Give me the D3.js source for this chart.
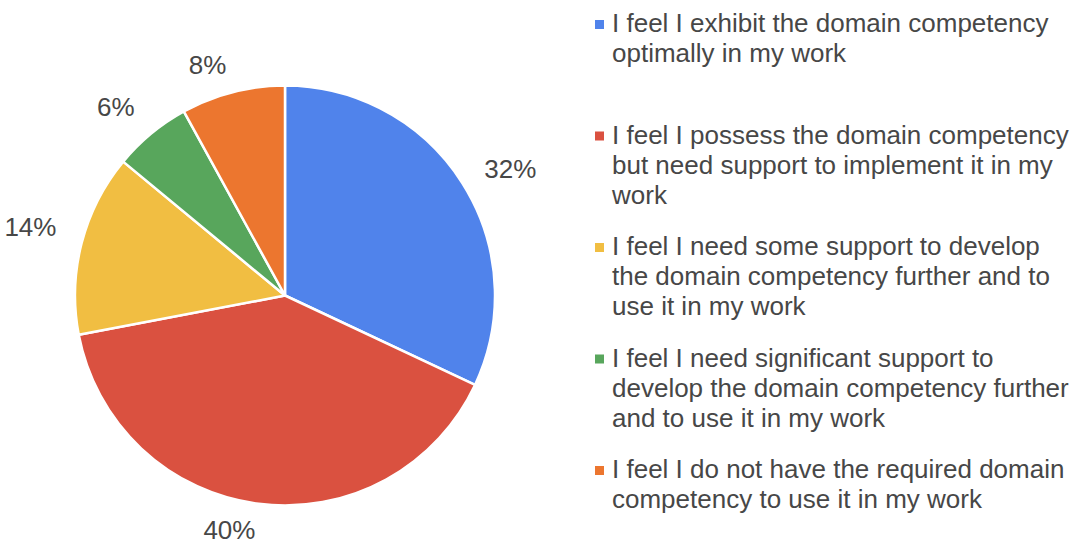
<!DOCTYPE html>
<html>
<head>
<meta charset="utf-8">
<script src="https://cdn.jsdelivr.net/npm/d3@7"></script>
<style>
  html, body { margin: 0; padding: 0; background: #ffffff; }
  svg { display: block; font-family: "Liberation Sans", Arial, sans-serif; }
</style>
</head>
<body>
<svg id="chart" width="1077" height="544"></svg>
<script>
// Survey responses: self-assessed domain competency
const categories = [
  "I feel I exhibit the domain competency optimally in my work",
  "I feel I possess the domain competency but need support to implement it in my work",
  "I feel I need some support to develop the domain competency further and to use it in my work",
  "I feel I need significant support to develop the domain competency further and to use it in my work",
  "I feel I do not have the required domain competency to use it in my work"
];
const shares = [32, 40, 14, 6, 8];
const sliceColors = ["#5083EB", "#DA5140", "#F1BE42", "#58A65C", "#EC762F"];

const W = 1077, H = 544;
const cx = 285, cy = 295.5, radius = 210;
const labelRadius = 236;
const labelHalfHeight = 10;
const textColor = "#474747";

const svg = d3.select("#chart");

const pie = d3.pie().sort(null).value(d => d.value);
const arcs = pie(categories.map((c, i) => ({ name: c, value: shares[i], color: sliceColors[i] })));
const arc = d3.arc().innerRadius(0).outerRadius(radius);

const g = svg.append("g").attr("transform", `translate(${cx},${cy})`);

g.selectAll("path.slice")
  .data(arcs)
  .join("path")
  .attr("class", "slice")
  .attr("d", arc)
  .attr("fill", d => d.data.color)
  .attr("stroke", "#ffffff")
  .attr("stroke-width", 2.5)
  .attr("stroke-linejoin", "round");

// Percentage labels just outside each slice; upper-left labels are lifted
// so their lower corner sits on the anchor ring
g.selectAll("text.pct")
  .data(arcs)
  .join("text")
  .attr("class", "pct")
  .each(function (d) {
    const a = (d.startAngle + d.endAngle) / 2;
    const s = Math.sin(a), c = Math.cos(a);
    const x = labelRadius * s;
    const lift = (s < 0 && c > 0) ? labelHalfHeight * Math.abs(s) : 0;
    const y = -labelRadius * c - lift;
    d3.select(this)
      .attr("x", x)
      .attr("y", y)
      .attr("dy", "0.35em")
      .attr("text-anchor", s > 0.2 ? "start" : "end");
  })
  .attr("font-size", 26)
  .attr("fill", textColor)
  .text(d => d3.format("d")(d.data.value) + "%");

// Legend with wrapped entries
const legendX = 595, textX = 612, firstBaseline = 32;
const itemPitch = 111.5, lineHeight = 30, maxWidth = 463;

const legend = svg.append("g");
categories.forEach((name, i) => {
  const base = firstBaseline + i * itemPitch;
  legend.append("rect")
    .attr("x", legendX)
    .attr("y", base - 12)
    .attr("width", 9)
    .attr("height", 9)
    .attr("fill", sliceColors[i]);

  const text = legend.append("text")
    .attr("x", textX)
    .attr("y", base)
    .attr("font-size", 26)
    .attr("fill", textColor);

  const words = name.split(" ");
  let line = [];
  let lineNo = 0;
  let tspan = text.append("tspan").attr("x", textX).attr("y", base);
  words.forEach(w => {
    line.push(w);
    tspan.text(line.join(" "));
    if (tspan.node().getComputedTextLength() > maxWidth && line.length > 1) {
      line.pop();
      tspan.text(line.join(" "));
      line = [w];
      lineNo += 1;
      tspan = text.append("tspan")
        .attr("x", textX)
        .attr("y", base + lineNo * lineHeight)
        .text(w);
    }
  });
});
</script>
</body>
</html>
